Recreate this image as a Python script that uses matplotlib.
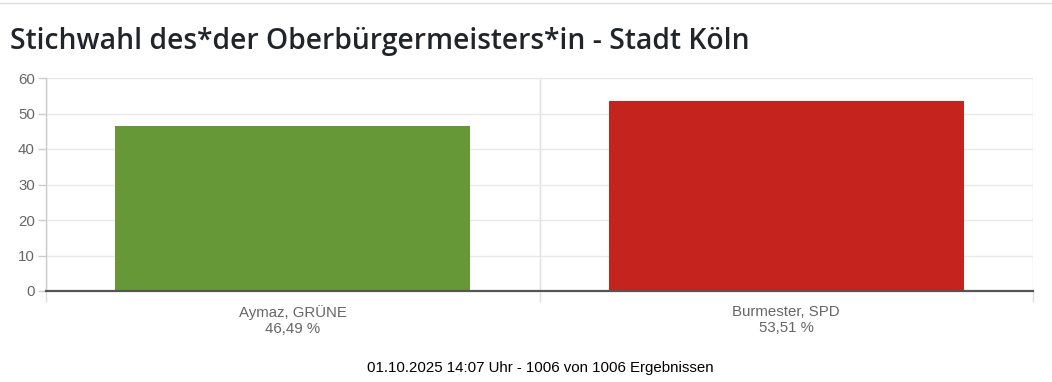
import matplotlib
matplotlib.use("Agg")
import matplotlib.pyplot as plt
from matplotlib.lines import Line2D

categories = ["Aymaz, GRÜNE", "Burmester, SPD"]
values = [46.49, 53.51]
pct_labels = ["46,49 %", "53,51 %"]
colors = ["#669838", "#c4231e"]
yticks = [0, 10, 20, 30, 40, 50, 60]
title = "Stichwahl des*der Oberbürgermeisters*in - Stadt Köln"
footer = "01.10.2025 14:07 Uhr - 1006 von 1006 Ergebnissen"

W, H = 1052, 382
fig = plt.figure(figsize=(W / 100, H / 100), dpi=100)
ax = fig.add_axes([46 / W, 1 - 291 / H, (1033 - 46) / W, (291 - 78) / H])

x = list(range(len(categories)))
ax.bar(x, values, width=0.72, color=colors, zorder=2, edgecolor="none")

ax.set_xlim(-0.5, len(categories) - 0.5)
ax.set_ylim(0, 60)
ax.set_yticks(yticks)
ax.set_yticklabels([str(v) for v in yticks], fontsize=10.8, color="#666666",
                   family="Liberation Sans")
ax.tick_params(axis="y", length=6, color="#cccccc", pad=2, width=1)

ax.set_xticks(x)
ax.set_xticklabels([f"{c}\n{p}" for c, p in zip(categories, pct_labels)],
                   fontsize=10.8, color="#666666", family="Liberation Sans",
                   linespacing=1.2)
ax.tick_params(axis="x", which="major", length=0, pad=10)
ax.set_xticks([-0.5 + i for i in range(len(categories) + 1)], minor=True)
ax.tick_params(axis="x", which="minor", length=8, color="#dddddd", width=1)

ax.grid(axis="y", which="major", color="#e8e8e8", lw=1, zorder=0)
ax.grid(axis="x", which="minor", color="#e0e0e0", lw=1, zorder=0)

for s in ["top", "right"]:
    ax.spines[s].set_visible(False)
ax.spines["left"].set_color("#cccccc")
ax.spines["left"].set_linewidth(1)
ax.spines["bottom"].set_visible(False)
ax.axhline(0, color="#555555", lw=1.6, zorder=3, clip_on=False)

fig.text(10 / W, 1 - 42 / H, title, fontsize=20.3, fontweight="semibold",
         family="Open Sans", color="#212529", va="center", ha="left")
fig.text(540 / W, 1 - 368 / H, footer, fontsize=10.8, family="Liberation Sans",
         color="#000000", ha="center", va="center")

fig.add_artist(Line2D([0, 1], [1 - 2.5 / H, 1 - 2.5 / H], color="#dddddd", lw=1,
                      transform=fig.transFigure))

fig.savefig("out.png", dpi=100)
